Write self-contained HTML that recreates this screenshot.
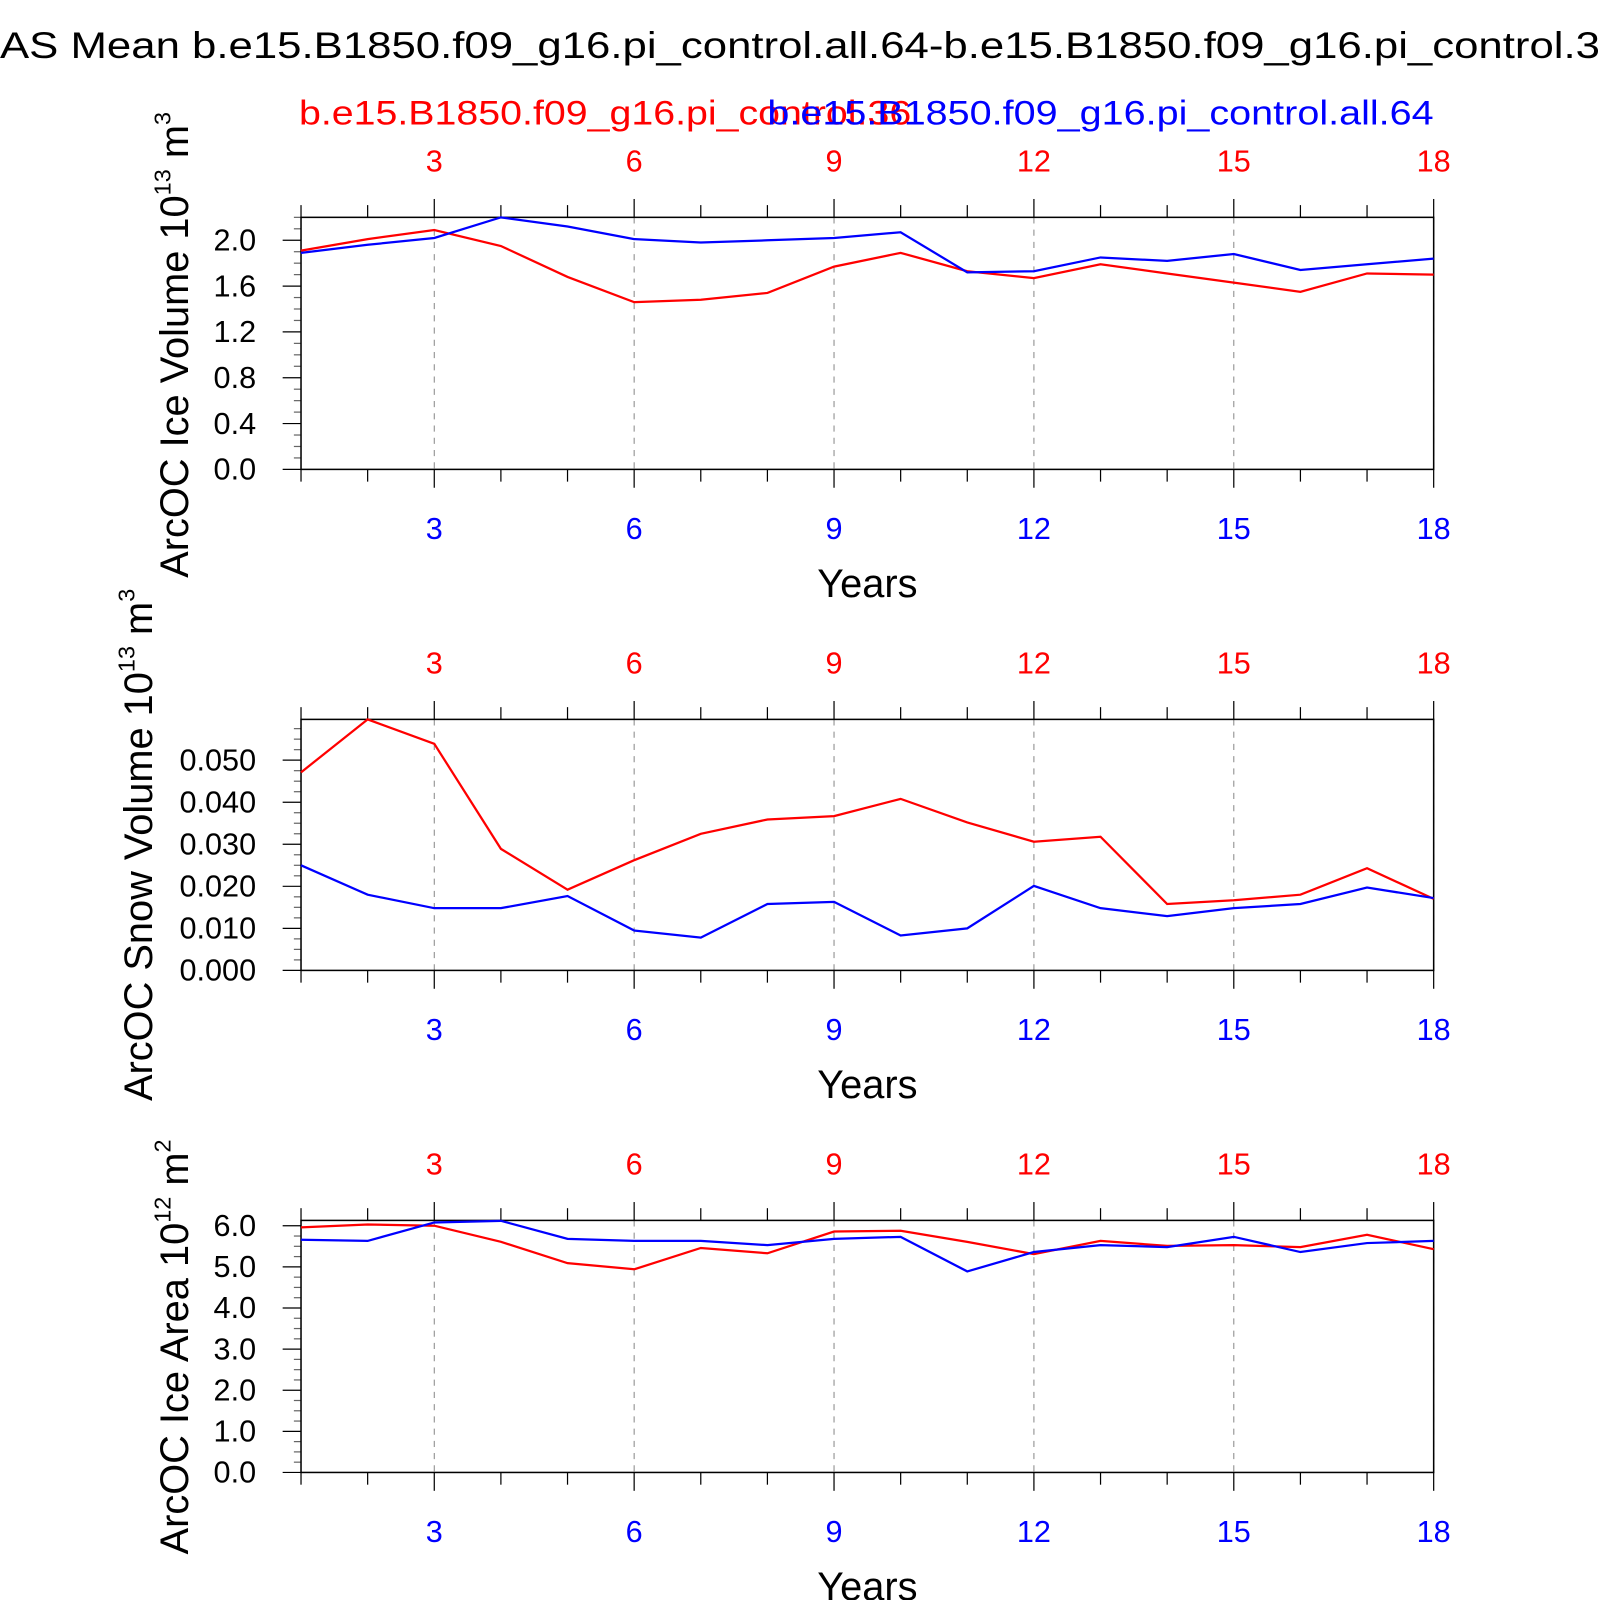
<!DOCTYPE html>
<html><head><meta charset="utf-8"><style>
html,body{margin:0;padding:0;background:#fff;}
svg{display:block;font-family:"Liberation Sans",Arial,sans-serif;}
</style></head><body>
<svg id="chart" width="1600" height="1600" viewBox="0 0 1568 1568" xmlns="http://www.w3.org/2000/svg">
<text x="0" y="57" font-size="36" textLength="1568" lengthAdjust="spacingAndGlyphs">AS Mean b.e15.B1850.f09_g16.pi_control.all.64-b.e15.B1850.f09_g16.pi_control.3</text>
<text x="293" y="122" font-size="34" fill="#ff0000" textLength="600" lengthAdjust="spacingAndGlyphs">b.e15.B1850.f09_g16.pi_control.36</text>
<text x="752" y="122" font-size="34" fill="#0000ff" textLength="653" lengthAdjust="spacingAndGlyphs">b.e15.B1850.f09_g16.pi_control.all.64</text>
</svg>
<script>
const years = [1,2,3,4,5,6,7,8,9,10,11,12,13,14,15,16,17,18];
const xTickLabels = [3,6,9,12,15,18];
const iceVolRed = [1.91,2.01,2.09,1.95,1.68,1.46,1.48,1.54,1.77,1.89,1.73,1.67,1.79,1.71,1.63,1.55,1.71,1.70];
const iceVolBlue = [1.89,1.96,2.02,2.2,2.12,2.01,1.98,2.0,2.02,2.07,1.72,1.73,1.85,1.82,1.88,1.74,1.79,1.84];
const iceVolTicks = ["0.0","0.4","0.8","1.2","1.6","2.0"];
const snowRed = [0.0471,0.0597,0.0539,0.0289,0.0192,0.0262,0.0325,0.0359,0.0367,0.0408,0.0352,0.0306,0.0318,0.0158,0.0167,0.018,0.0243,0.017];
const snowBlue = [0.025,0.018,0.0148,0.0148,0.0177,0.0095,0.0078,0.0158,0.0163,0.0083,0.01,0.0201,0.0148,0.0129,0.0148,0.0158,0.0197,0.0172];
const snowTicks = ["0.000","0.010","0.020","0.030","0.040","0.050"];
const areaRed = [5.96,6.03,6.0,5.61,5.09,4.94,5.46,5.33,5.86,5.88,5.61,5.31,5.63,5.51,5.53,5.48,5.78,5.43];
const areaBlue = [5.66,5.63,6.08,6.12,5.68,5.63,5.63,5.53,5.68,5.73,4.89,5.36,5.53,5.48,5.73,5.36,5.58,5.63];
const areaTicks = ["0.0","1.0","2.0","3.0","4.0","5.0","6.0"];

const NS = "http://www.w3.org/2000/svg";
const svg = document.getElementById('chart');
function mk(tag, attrs, parent){
  const e = document.createElementNS(NS, tag);
  for (const k in attrs) e.setAttribute(k, attrs[k]);
  (parent||svg).appendChild(e);
  return e;
}
const X0 = 295, X1 = 1405;
function xs(yr){ return X0 + (yr-1)*(X1-X0)/17; }

function panel(p){
  const g = mk('g', {});
  
  
  const top = p.top, bot = p.bot;
  const ys = v => bot - (v - 0)/(p.ymax) * (bot - top);
  xTickLabels.forEach(t => {
    const l = mk('line', {x1:xs(t), x2:xs(t), y1:top, y2:bot, stroke:'#888', 'stroke-width':1, 'stroke-dasharray':'6,6'}, g);
    
    
  });
  years.forEach(yr => {
    const major = yr % 3 === 0;
    const len = major ? 18 : 12;
    mk('line', {x1:xs(yr), x2:xs(yr), y1:top-len, y2:top, stroke:'#000', 'stroke-width':1.2}, g);
    mk('line', {x1:xs(yr), x2:xs(yr), y1:bot, y2:bot+len, stroke:'#000', 'stroke-width':1.2}, g);
  });
  xTickLabels.forEach(t => {
    const a = mk('text', {x:xs(t), y:top-45, 'font-size':30, fill:'#ff0000', 'text-anchor':'middle'}, g);
    
    
    a.textContent = t;
    const b = mk('text', {x:xs(t), y:bot+68, 'font-size':30, fill:'#0000ff', 'text-anchor':'middle'}, g);
    
    
    b.textContent = t;
  });
  for (let v = 0; v <= p.ymax + 1e-9; v += p.minor) {
    const y = ys(v);
    const isMajor = Math.abs(v/p.major - Math.round(v/p.major)) < 1e-6;
    mk('line', {x1:X0 - (isMajor?18:7), x2:X0, y1:y, y2:y, stroke:isMajor?'#000':'#666', 'stroke-width':1.2}, g);
  }
  p.ticks.forEach(lbl => {
    const v = parseFloat(lbl);
    const t = mk('text', {x:251, y:ys(v)+10, 'font-size':30, 'text-anchor':'end'}, g);
    
    
    t.textContent = lbl;
  });
  const fr = mk('rect', {x:X0, y:top, width:X1-X0, height:bot-top, fill:'none', stroke:'#000', 'stroke-width':1.5}, g);
  
  
  [[p.red,'#ff0000','red-line'],[p.blue,'#0000ff','blue-line']].forEach(s => {
    const pts = years.map((yr,i) => xs(yr).toFixed(1)+','+ys(s[0][i]).toFixed(1)).join(' ');
    const pl = mk('polyline', {points:pts, fill:'none', stroke:s[1], 'stroke-width':2.2}, g);
    
    
  });
  const xt = mk('text', {x:850, y:bot+125, 'font-size':39, 'text-anchor':'middle'}, g);
  
  
  xt.textContent = 'Years';
  const yt = mk('text', {x:0, y:0, 'font-size':39, 'text-anchor':'middle', transform:'translate('+p.ytx+','+p.ytc+') rotate(-90)'}, g);
  
  
  yt.innerHTML = p.ytitle + ' 10<tspan font-size="23" dy="-17">' + p.exp + '</tspan><tspan dy="17"> m</tspan><tspan font-size="23" dy="-17">' + p.unitExp + '</tspan>';
}

panel({name:'ice-volume-panel', top:213, bot:460, ymax:2.2, major:0.4, minor:0.1, ticks:iceVolTicks, red:iceVolRed, blue:iceVolBlue, ytitle:'ArcOC Ice Volume', exp:'13', unitExp:'3', ytx:184, ytc:338});
panel({name:'snow-volume-panel', top:705, bot:951, ymax:0.0597, major:0.01, minor:0.0025, ticks:snowTicks, red:snowRed, blue:snowBlue, ytitle:'ArcOC Snow Volume', exp:'13', unitExp:'3', ytx:149, ytc:828});
panel({name:'ice-area-panel', top:1196, bot:1443, ymax:6.13, major:1.0, minor:0.25, ticks:areaTicks, red:areaRed, blue:areaBlue, ytitle:'ArcOC Ice Area', exp:'12', unitExp:'2', ytx:184, ytc:1320});
</script>
</body></html>
